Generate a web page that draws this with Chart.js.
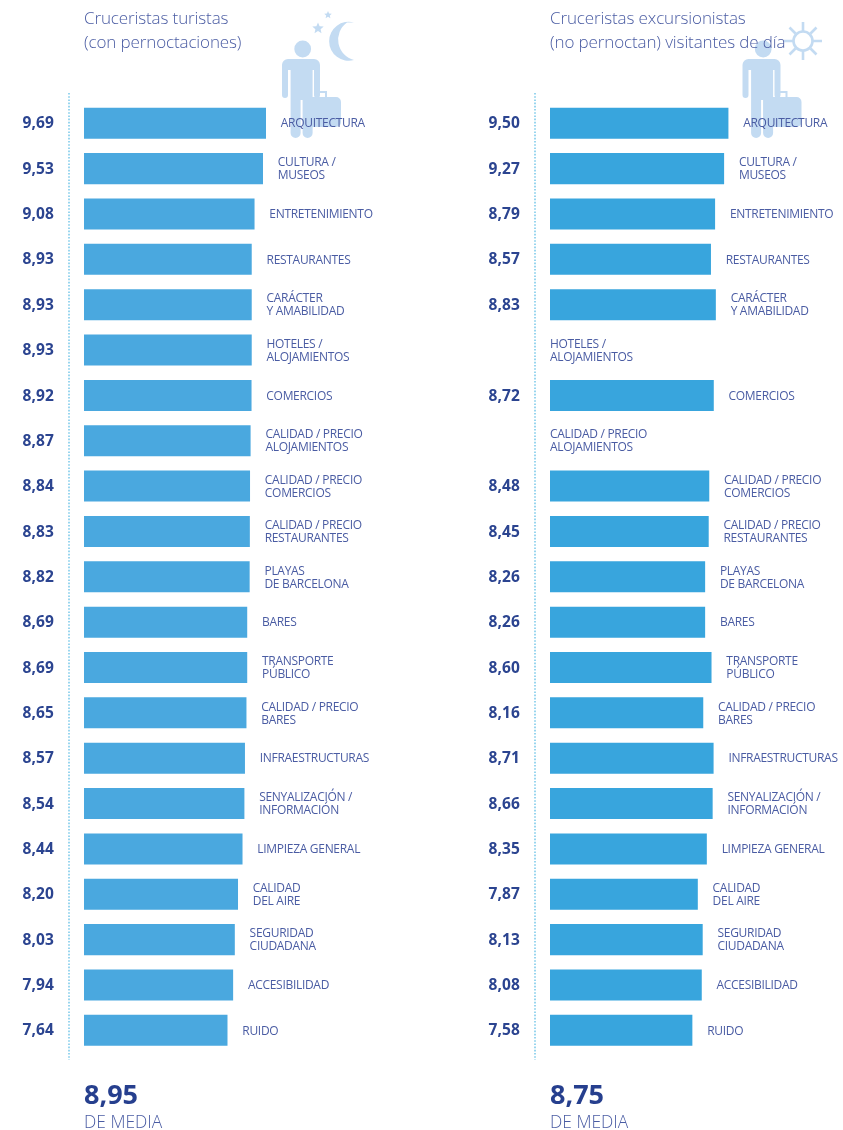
<!DOCTYPE html>
<html lang="es">
<head>
<meta charset="utf-8">
<title>Valoración de cruceristas</title>
<script src="https://cdn.jsdelivr.net/npm/chart.js@4/dist/chart.umd.min.js"></script>
<style>
html,body{margin:0;padding:0;background:#fff;overflow:hidden}
#page{position:relative;width:843px;height:1130px;overflow:hidden;font-family:"Open Sans",sans-serif}
canvas{position:absolute;top:0}
svg{position:absolute;left:0;top:0}
.t{position:absolute;white-space:nowrap}
.title{top:6px;font-size:17px;line-height:24px;font-weight:300;color:#4a5ca3;letter-spacing:-.12px}
.mean{top:1075px;font-size:27px;line-height:38px;font-weight:700;color:#263f8e}
.sub{top:1108px;font-size:17.4px;line-height:26px;font-weight:300;color:#4a5ca3}
</style>
</head>
<body>
<div id="page">
<svg width="843" height="1130" fill="#c3dbf2">
  <g id="man">
    <circle cx="302.7" cy="49" r="8.4"/>
    <path d="M289 59h26a6 6 0 0 1 6 6v30a3 3 0 0 1-6 0V70h-1.400v63a5 5 0 0 1-10 0V100h-2v33a5 5 0 0 1-10 0V70h-2.600v25a3 3 0 0 1-6 0V65a6 6 0 0 1 6-6z" transform="translate(-1 0)"/>
    <path d="M316 97v-6h11v6h9a5 5 0 0 1 5 5v20a5 5 0 0 1-5 5h-33v-30zM318 97h7v-4h-7z" fill-rule="evenodd"/>
  </g>
  <use href="#man" x="460.5"/>
  <path d="M354 22.500a19.500 19.500 0 1 0 0 37.500a21 21 0 0 1-7-37.500z"/>
  <polygon points="318,22.500 319.600,26.300 323.700,26.600 320.600,29.200 321.500,33.200 318,31.100 314.500,33.200 315.400,29.200 312.300,26.600 316.400,26.300"/>
  <polygon points="328,11 329.100,13.500 331.800,13.700 329.800,15.500 330.400,18.200 328,16.800 325.600,18.200 326.200,15.500 324.200,13.700 326.900,13.500"/>
  <g fill="none" stroke="#c3dbf2" stroke-width="2.600">
    <circle cx="803" cy="41" r="9.500"/>
    <path d="M803 22v9M803 51v9M784 41h9M813 41h9M789.500 27.500l6 6M810.500 48.500l6 6M816.500 27.500l-6 6M795.500 48.500l-6 6"/>
  </g>
</svg>
<canvas id="chartLeft" style="left:0"></canvas>
<canvas id="chartRight" style="left:466px"></canvas>
<div class="t title" style="left:84px">Cruceristas turistas<br>(con pernoctaciones)</div>
<div class="t title" style="left:550px">Cruceristas excursionistas<br>(no pernoctan) visitantes de día</div>
<div class="t mean" id="meanL" style="left:84px"></div>
<div class="t sub" style="left:84px">DE MEDIA</div>
<div class="t mean" id="meanR" style="left:550px"></div>
<div class="t sub" style="left:550px">DE MEDIA</div>
</div>
<script>
const categories = [
  ["ARQUITECTURA"],
  ["CULTURA /","MUSEOS"],
  ["ENTRETENIMIENTO"],
  ["RESTAURANTES"],
  ["CARÁCTER","Y AMABILIDAD"],
  ["HOTELES /","ALOJAMIENTOS"],
  ["COMERCIOS"],
  ["CALIDAD / PRECIO","ALOJAMIENTOS"],
  ["CALIDAD / PRECIO","COMERCIOS"],
  ["CALIDAD / PRECIO","RESTAURANTES"],
  ["PLAYAS","DE BARCELONA"],
  ["BARES"],
  ["TRANSPORTE","PÚBLICO"],
  ["CALIDAD / PRECIO","BARES"],
  ["INFRAESTRUCTURAS"],
  ["SENYALIZACIÓN /","INFORMACIÓN"],
  ["LIMPIEZA GENERAL"],
  ["CALIDAD","DEL AIRE"],
  ["SEGURIDAD","CIUDADANA"],
  ["ACCESIBILIDAD"],
  ["RUIDO"]
];
const turistas = [9.69,9.53,9.08,8.93,8.93,8.93,8.92,8.87,8.84,8.83,8.82,8.69,8.69,8.65,8.57,8.54,8.44,8.20,8.03,7.94,7.64];
const excursionistas = [9.50,9.27,8.79,8.57,8.83,null,8.72,null,8.48,8.45,8.26,8.26,8.60,8.16,8.71,8.66,8.35,7.87,8.13,8.08,7.58];
const mediaTuristas = "8,95";
const mediaExcursionistas = "8,75";
const xMax = 15.6;

document.getElementById("meanL").textContent = mediaTuristas;
document.getElementById("meanR").textContent = mediaExcursionistas;

const fmt = v => v.toFixed(2).replace(".", ",");

const annotate = {
  id: "annotate",
  afterDatasetsDraw(chart) {
    const { ctx, scales: { x, y } } = chart;
    const values = chart.data.datasets[0].data;
    ctx.save();
    // dotted rule
    ctx.strokeStyle = "#7fcbea";
    ctx.lineWidth = 1.6;
    ctx.setLineDash([1.6, 1.6]);
    ctx.beginPath();
    ctx.moveTo(69, 93);
    ctx.lineTo(69, 1060);
    ctx.stroke();
    ctx.setLineDash([]);
    ctx.textBaseline = "middle";
    categories.forEach((lines, i) => {
      const cy = y.getPixelForValue(i);
      const v = values[i];
      if (v !== null) {
        ctx.textAlign = "right";
        ctx.fillStyle = "#2b4490";
        ctx.font = '700 15.5px "Open Sans", sans-serif';
        ctx.letterSpacing = "0.1px";
        ctx.fillText(fmt(v), 54, cy + 0.7);
      }
      ctx.textAlign = "left";
      ctx.fillStyle = "#4a5ca3";
      ctx.font = '400 12px "Open Sans", sans-serif';
      ctx.letterSpacing = "-0.3px";
      const lx = v === null ? x.getPixelForValue(0) : x.getPixelForValue(v) + 14.8;
      lines.forEach((s, k) => {
        ctx.fillText(s, lx, cy + 0.8 + (k - (lines.length - 1) / 2) * 13);
      });
    });
    ctx.restore();
  }
};

function makeChart(id, values, color) {
  const el = document.getElementById(id);
  return new Chart(el, {
    type: "bar",
    data: {
      labels: categories.map(c => c.join(" ")),
      datasets: [{ data: values, backgroundColor: color, borderWidth: 0, categoryPercentage: 1, barPercentage: 0.684 }]
    },
    options: {
      indexAxis: "y",
      responsive: false,
      animation: false,
      layout: { padding: { left: 84, right: 0, top: 100.6, bottom: 77 } },
      plugins: { legend: { display: false }, tooltip: { enabled: false } },
      scales: {
        x: { display: false, min: 0, max: xMax },
        y: { display: false }
      }
    },
    plugins: [annotate]
  });
}
for (const [id] of [["chartLeft"], ["chartRight"]]) {
  const c = document.getElementById(id);
  c.width = 377; c.height = 1130;
  c.style.width = "377px"; c.style.height = "1130px";
}
makeChart("chartLeft", turistas, "#4aa8df");
makeChart("chartRight", excursionistas, "#38a5dd");
</script>
</body>
</html>
